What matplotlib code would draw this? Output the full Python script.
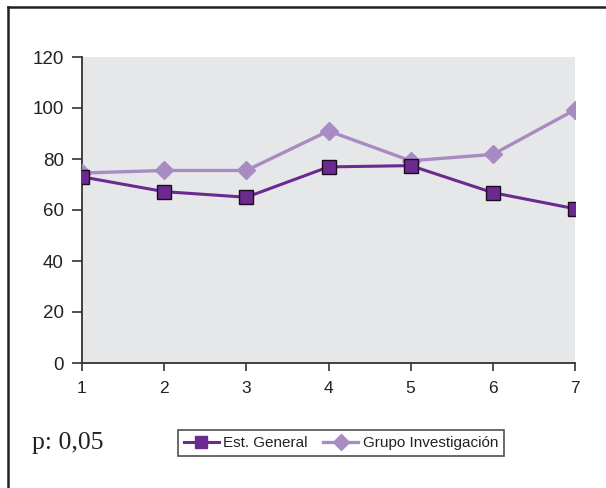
import matplotlib
matplotlib.use("Agg")
import matplotlib.pyplot as plt
from matplotlib.lines import Line2D

x = [1, 2, 3, 4, 5, 6, 7]
est_general = [73.0, 67.2, 65.0, 76.9, 77.4, 66.8, 60.5]
grupo_inv = [74.5, 75.5, 75.5, 91.0, 79.3, 81.8, 99.3]
yticks = [0, 20, 40, 60, 80, 100, 120]
labels = ["Est. General", "Grupo Investigación"]

W, H = 606, 488
fig = plt.figure(figsize=(W / 100, H / 100), dpi=100)
ax = fig.add_axes([82 / W, 1 - 363 / H, (575 - 82) / W, (363 - 57) / H])
ax.set_facecolor("#e6e7e8")

dark = "#6b2a8f"
light = "#a98bc4"
ax.plot(x, grupo_inv, color=light, lw=2.4, marker="D", markersize=9,
        markerfacecolor=light, markeredgecolor=light, label=labels[1], zorder=3)
ax.plot(x, est_general, color=dark, lw=2.2, marker="s", markersize=10,
        markerfacecolor=dark, markeredgecolor="#1a0a22", markeredgewidth=1.0,
        label=labels[0], zorder=4)

ax.set_xlim(1, 7)
ax.set_ylim(0, 120)
ax.set_yticks(yticks)
ax.set_xticks(x)
for s in ["top", "right"]:
    ax.spines[s].set_visible(False)
for s in ["left", "bottom"]:
    ax.spines[s].set_color("#333333")
    ax.spines[s].set_linewidth(1.3)
    ax.spines[s].set_clip_on(False)
ax.tick_params(axis="y", length=7, width=1.2, color="#333333", labelsize=13.5,
               labelcolor="#222222", pad=6)
ax.tick_params(axis="x", length=6, width=1.2, color="#333333", labelsize=12.5,
               labelcolor="#222222", pad=7)
for lab in ax.get_xticklabels() + ax.get_yticklabels():
    lab.set_fontfamily(["Liberation Sans", "DejaVu Sans"])

# outer frame (left and top visible)
fig.add_artist(Line2D([7.5 / W, 7.5 / W], [0, 1 - 7 / H], color="#222222", lw=1.8,
                      transform=fig.transFigure))
fig.add_artist(Line2D([7.5 / W, 1], [1 - 7 / H, 1 - 7 / H], color="#222222", lw=1.8,
                      transform=fig.transFigure))

fig.text(32 / W, 1 - 443 / H, "p: 0,05", fontsize=18.5,
         family=["Liberation Serif", "DejaVu Serif"], va="center", ha="left",
         color="#222222")

h_est = Line2D([], [], color=dark, lw=2.2, marker="s", markersize=8,
               markerfacecolor=dark, markeredgecolor=dark)
h_grp = Line2D([], [], color=light, lw=2.4, marker="D", markersize=8,
               markerfacecolor=light, markeredgecolor=light)
leg = fig.legend([h_est, h_grp], labels, loc="center",
                 bbox_to_anchor=(341 / W, 1 - 443 / H), ncol=2, frameon=True,
                 fancybox=False, edgecolor="#222222", handlelength=2.3,
                 columnspacing=1.0, handletextpad=0.3, borderpad=0.4,
                 borderaxespad=0.0,
                 prop={"family": ["Liberation Sans", "DejaVu Sans"],
                       "size": 11})
leg.get_frame().set_linewidth(1.2)
for t in leg.get_texts():
    t.set_color("#222222")

fig.savefig("out.png", dpi=100)
